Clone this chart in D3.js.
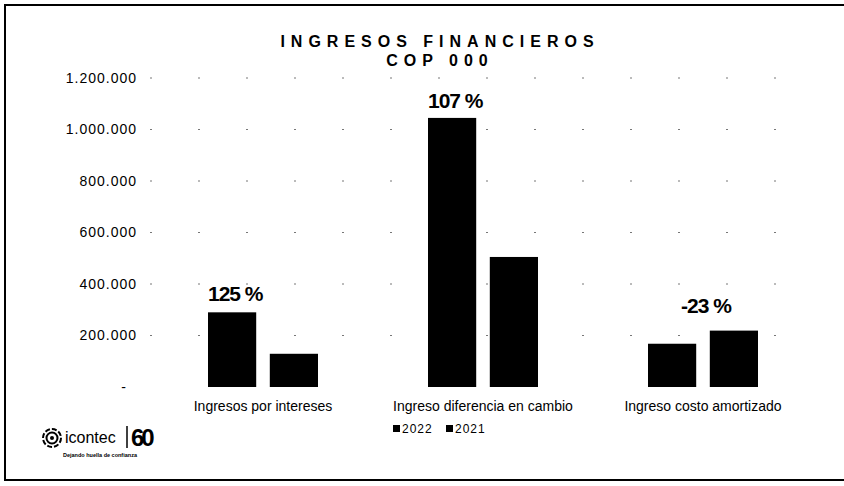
<!DOCTYPE html>
<html lang="es">
<head>
    <meta charset="UTF-8">
    <title>Ingresos financieros</title>
    <style>
        body { margin: 0; background: #fff; }
        svg { display: block; font-family: "Liberation Sans", Arial, sans-serif; }
        .tick-label { font-size: 14px; letter-spacing: 1px; fill: #000; }
        .cat-label { font-size: 14px; fill: #000; }
        .pct { font-size: 21px; font-weight: bold; letter-spacing: -1px; fill: #000; }
        .title { font-size: 16px; font-weight: bold; letter-spacing: 6px; fill: #000; }
        .legend text { font-size: 12px; letter-spacing: 1px; fill: #000; }
        .grid line { stroke: #777; stroke-width: 1; stroke-dasharray: 2,46; }
    </style>
    <script src="https://d3js.org/d3.v7.min.js"></script>
</head>
<body>
<div id="chart"></div>
<script>
    // Datos (COP 000)
    const categories = ["Ingresos por intereses", "Ingreso diferencia en cambio", "Ingreso costo amortizado"];
    const years = ["2022", "2021"];
    const values2022 = [290000, 1045000, 168000];
    const values2021 = [129000, 505000, 219000];
    const variations = ["125 %", "107 %", "-23 %"];
    const yTicks = [0, 200000, 400000, 600000, 800000, 1000000, 1200000];
    const yTickLabels = ["-", "200.000", "400.000", "600.000", "800.000", "1.000.000", "1.200.000"];

    const width = 844, height = 486;
    const svg = d3.select("#chart").append("svg")
        .attr("width", width)
        .attr("height", height);

    // marco
    svg.append("path")
        .attr("d", "M844,5 H5 V480 H844")
        .attr("fill", "none")
        .attr("stroke", "#000")
        .attr("stroke-width", 2);

    // titulo
    svg.append("text").attr("class", "title")
        .attr("x", 440).attr("y", 47).attr("text-anchor", "middle")
        .text("INGRESOS FINANCIEROS");
    svg.append("text").attr("class", "title")
        .attr("x", 440).attr("y", 66).attr("text-anchor", "middle")
        .text("COP 000");

    // escalas
    const x0 = d3.scaleBand().domain(categories).range([153, 813])
        .paddingInner(0.5).paddingOuter(0.25);
    const x1 = d3.scaleBand().domain(years).range([0, x0.bandwidth()]).paddingInner(0.22);
    const y = d3.scaleLinear().domain([0, 1200000]).range([387, 78]);

    // lineas de guia (punteadas, casi invisibles en el original)
    svg.append("g").attr("class", "grid")
        .selectAll("line").data(yTicks.slice(1)).enter().append("line")
        .attr("x1", 150).attr("x2", 820)
        .attr("y1", d => y(d)).attr("y2", d => y(d));

    // eje y
    const yAxis = svg.append("g")
        .attr("transform", "translate(137,0)")
        .call(d3.axisLeft(y).tickValues(yTicks).tickSize(0).tickPadding(0)
            .tickFormat((d, i) => yTickLabels[i]));
    yAxis.select(".domain").remove();
    yAxis.selectAll("text")
        .attr("class", "tick-label")
        .attr("font-family", null).attr("font-size", null)
        .attr("dx", d => d === 0 ? -10 : 0);

    // barras
    const rows = categories.map((c, i) => ({ cat: c, vals: [values2022[i], values2021[i]], pct: variations[i] }));

    const groups = svg.selectAll(".grp").data(rows).enter().append("g")
        .attr("class", "grp")
        .attr("transform", d => `translate(${x0(d.cat)},0)`);

    groups.selectAll("rect")
        .data(d => d.vals.map((v, j) => ({ year: years[j], v })))
        .enter().append("rect")
        .attr("x", d => x1(d.year))
        .attr("width", x1.bandwidth())
        .attr("y", d => y(d.v))
        .attr("height", d => y(0) - y(d.v))
        .attr("fill", "#000");

    // porcentajes de variacion
    const pctShift = [[0, -11], [0, -10], [33, -18]];
    groups.append("text").attr("class", "pct")
        .attr("x", (d, i) => x1("2022") + pctShift[i][0])
        .attr("y", (d, i) => y(d3.max(d.vals)) + pctShift[i][1])
        .text(d => d.pct);

    // etiquetas de categoria
    svg.append("g").selectAll("text").data(categories).enter().append("text")
        .attr("class", "cat-label")
        .attr("x", d => x0(d) + x0.bandwidth() / 2)
        .attr("y", 411)
        .attr("text-anchor", "middle")
        .text(d => d);

    // leyenda
    const legend = svg.append("g").attr("class", "legend")
        .attr("transform", "translate(393,429)");
    const li = legend.selectAll("g").data(years).enter().append("g")
        .attr("transform", (d, i) => `translate(${i * 53},0)`);
    li.append("rect").attr("x", 0).attr("y", -4).attr("width", 7).attr("height", 7).attr("fill", "#000");
    li.append("text").attr("x", 9).attr("y", 4).text(d => d);

    // logo icontec
    const logo = svg.append("g").attr("transform", "translate(52,438)");
    logo.append("circle").attr("r", 9).attr("fill", "none").attr("stroke", "#000")
        .attr("stroke-width", 2).attr("stroke-dasharray", "5,2");
    logo.append("circle").attr("r", 5.5).attr("fill", "none").attr("stroke", "#000").attr("stroke-width", 2);
    logo.append("circle").attr("r", 2).attr("fill", "#000");
    logo.append("text").attr("x", 13).attr("y", 5)
        .attr("font-size", 16).attr("fill", "#000").text("icontec");
    logo.append("line").attr("x1", 75).attr("x2", 75).attr("y1", -12).attr("y2", 10)
        .attr("stroke", "#000").attr("stroke-width", 1.5);
    logo.append("text").attr("x", 79).attr("y", 8)
        .attr("font-size", 24).attr("font-weight", "bold").attr("letter-spacing", -3)
        .attr("fill", "#000").text("60");
    logo.append("text").attr("x", 11).attr("y", 19)
        .attr("font-size", 5.5).attr("font-weight", "bold").attr("fill", "#000")
        .text("Dejando huella de confianza");
</script>
</body>
</html>
